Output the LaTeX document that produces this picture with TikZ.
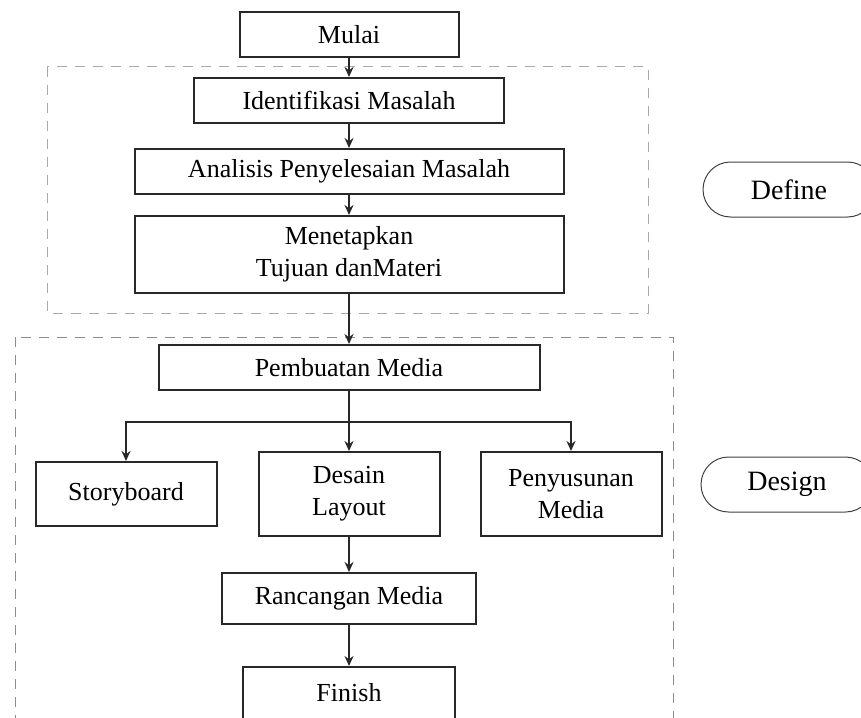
\documentclass[tikz,border=0pt]{standalone}
\usepackage{fontspec}
\setmainfont{Liberation Serif}
\usepackage{tikz}
\usetikzlibrary{arrows.meta,positioning}
\definecolor{boxcol}{RGB}{40,40,40}
\definecolor{framecol}{RGB}{140,140,140}

\begin{document}
\begin{tikzpicture}[
  x=0.5pt, y=-0.5pt,
  box/.style={rectangle, draw=boxcol, line width=1pt, inner sep=0pt,
              align=center, minimum height=22.5pt,
              font=\fontsize{13}{16}\selectfont},
  pill/.style={rectangle, rounded corners=13.75pt, draw=black!75,
               line width=0.5pt, minimum width=86pt, minimum height=27.5pt,
               font=\fontsize{14}{16}\selectfont},
  frame/.style={draw=framecol, line width=0.5pt, dash pattern=on 5pt off 4pt},
  arr/.style={-{Stealth[length=5pt,width=4.5pt]}, line width=0.8pt, draw=boxcol},
  >=Stealth
]
\useasboundingbox (0,0) rectangle (861,717);
\clip (0,0) rectangle (861,717);

%% Stage frames
\draw[frame, draw=framecol!75] (47,67) rectangle (648,313);
\draw[frame] (15,337) rectangle (673,740);

%% Define part (vertical column)
\node[box, minimum width=109.5pt] (mulai) at (349,34.5) {Mulai};
\node[box, minimum width=155pt, below=9.5pt of mulai] (ident)
  {Identifikasi Masalah};
\node[box, minimum width=214.5pt, below=12pt of ident] (analisis)
  {Analisis Penyelesaian Masalah};
\node[box, minimum width=214.5pt, minimum height=38.5pt,
      below=10pt of analisis] (tujuan)
  {Menetapkan\\Tujuan danMateri};

%% Design part
\node[box, minimum width=190.5pt, below=25pt of tujuan] (pemb)
  {Pembuatan Media};
\node[box, minimum width=90.5pt, minimum height=42pt,
      below=30pt of pemb] (desain) {Desain\\Layout};
\node[box, minimum width=90.5pt, minimum height=32pt,
      left=20pt of desain] (story) {Storyboard};
\node[box, minimum width=90.5pt, minimum height=42pt,
      right=19.5pt of desain] (susun) {Penyusunan\\Media};
\node[box, minimum width=127pt, minimum height=25.5pt,
      below=17.5pt of desain] (rancang) {Rancangan Media};
\node[box, minimum width=106pt, minimum height=26pt,
      below=20.5pt of rancang] (finish) {Finish};
\coordinate[below=15.5pt of pemb] (split);

%% Arrows
\draw[arr] (mulai) -- (ident);
\draw[arr] (ident) -- (analisis);
\draw[arr] (analisis) -- (tujuan);
\draw[arr] (tujuan) -- (pemb);
\draw[arr] (pemb) -- (desain);
\draw[arr] (split) -| (story.north);
\draw[arr] (split) -| (susun.north);
\draw[arr] (desain) -- (rancang);
\draw[arr] (rancang) -- (finish);

%% Stage labels on right
\node[pill] (define) at (789,189.5) {Define};
\node[pill] (design) at (787,484.5) {Design};

\end{tikzpicture}
\end{document}
